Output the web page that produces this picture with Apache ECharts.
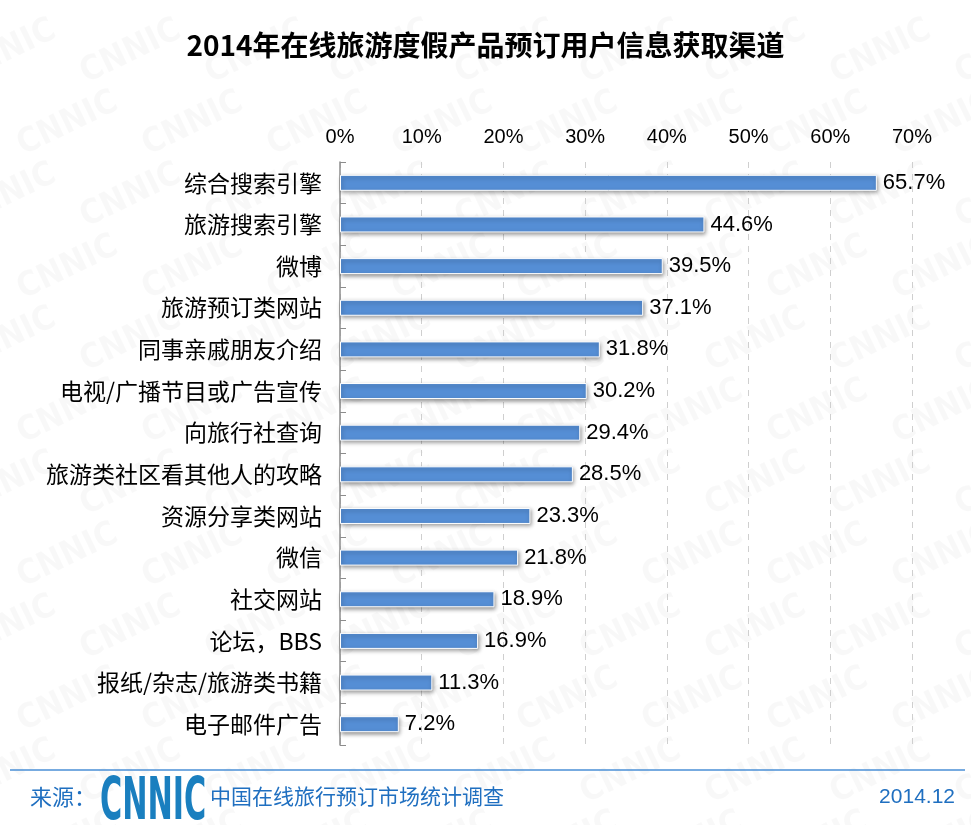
<!DOCTYPE html>
<html><head><meta charset="utf-8">
<script src="https://cdn.jsdelivr.net/npm/echarts@6/dist/echarts.min.js"></script>
<style>html,body{margin:0;padding:0;background:#fff}#c{width:971px;height:825px}</style>
</head><body><div id="c"></div>
<script>
const categories = ['综合搜索引擎','旅游搜索引擎','微博','旅游预订类网站','同事亲戚朋友介绍','电视/广播节目或广告宣传','向旅行社查询','旅游类社区看其他人的攻略','资源分享类网站','微信','社交网站','论坛，BBS','报纸/杂志/旅游类书籍','电子邮件广告'];
const values = [65.7,44.6,39.5,37.1,31.8,30.2,29.4,28.5,23.3,21.8,18.9,16.9,11.3,7.2];
const titleText = '2014年在线旅游度假产品预订用户信息获取渠道';
const sourceLabel = '来源：';
const sourceText = '中国在线旅行预订市场统计调查';
const dateText = '2014.12';

const cjk = '"Noto Sans CJK SC","Liberation Sans",sans-serif';
const wm = [];
for (let r = 0; r < 12; r++) {
  for (let c = 0; c < 9; c++) {
    wm.push({type:'text', x: c*125 - 50 + (r%2)*62, y: r*72 + 60, rotation: 0.45, z: 0,
      style:{text:'CNNIC', font:'bold 34px "DejaVu Sans Condensed",sans-serif', fill:'rgba(0,0,0,0.028)'}});
  }
}
const chart = echarts.init(document.getElementById('c'));
chart.setOption({
  backgroundColor:'#fff',
  animation:false,
  title:{text:titleText,left:'center',top:26,textStyle:{fontFamily:cjk,fontWeight:'bold',fontSize:28,color:'#000'}},
  grid:{left:340,right:59,top:162,bottom:80},
  xAxis:{type:'value',position:'top',min:0,max:70,interval:10,
    axisLabel:{formatter:'{value}%',fontSize:20,color:'#000',fontFamily:'"Liberation Sans",sans-serif',margin:15},
    axisLine:{show:false},axisTick:{show:false},
    splitLine:{show:true,lineStyle:{color:'#cfcfcf',type:[6,6],width:1}}},
  yAxis:{type:'category',inverse:true,data:categories,
    axisLine:{show:true,lineStyle:{color:'#8c8c8c',width:1.5}},
    axisTick:{show:true,inside:true,length:6,lineStyle:{color:'#8c8c8c'}},
    axisLabel:{fontSize:23,color:'#000',fontFamily:cjk,margin:18}},
  series:[{type:'bar',data:values,barWidth:16,z:3,
    itemStyle:{color:'#558ed5',borderColor:'#ffffff',borderWidth:1,shadowBlur:4,shadowOffsetX:1,shadowOffsetY:2,shadowColor:'rgba(0,0,0,0.4)'},
    label:{show:true,position:'right',distance:6,fontSize:22,color:'#000',fontFamily:'"Liberation Sans",sans-serif',
      formatter:p=>p.value.toFixed(1)+'%'}}],
  graphic:[
    {type:'group',z:-10,silent:true,children:wm},
    {type:'line',z:10,shape:{x1:10,y1:770,x2:965,y2:770},style:{stroke:'#4a8fd6',lineWidth:1.5}},
    {type:'text',z:10,x:30,y:786,style:{text:sourceLabel,font:'22px '+cjk,fill:'#1f6fc0'}},
    {type:'text',z:10,x:100,y:775,scaleX:0.58,style:{text:'CNNIC',font:'bold 58px "DejaVu Sans Condensed",sans-serif',fill:'#1a7fbf'}},
    {type:'text',z:10,x:210,y:786,style:{text:sourceText,font:'21px '+cjk,fill:'#1f6fc0'}},
    {type:'text',z:10,x:955,y:787,style:{text:dateText,font:'21px "Liberation Sans",sans-serif',fill:'#1f6fc0',align:'right'}}
  ]
});
</script></body></html>
